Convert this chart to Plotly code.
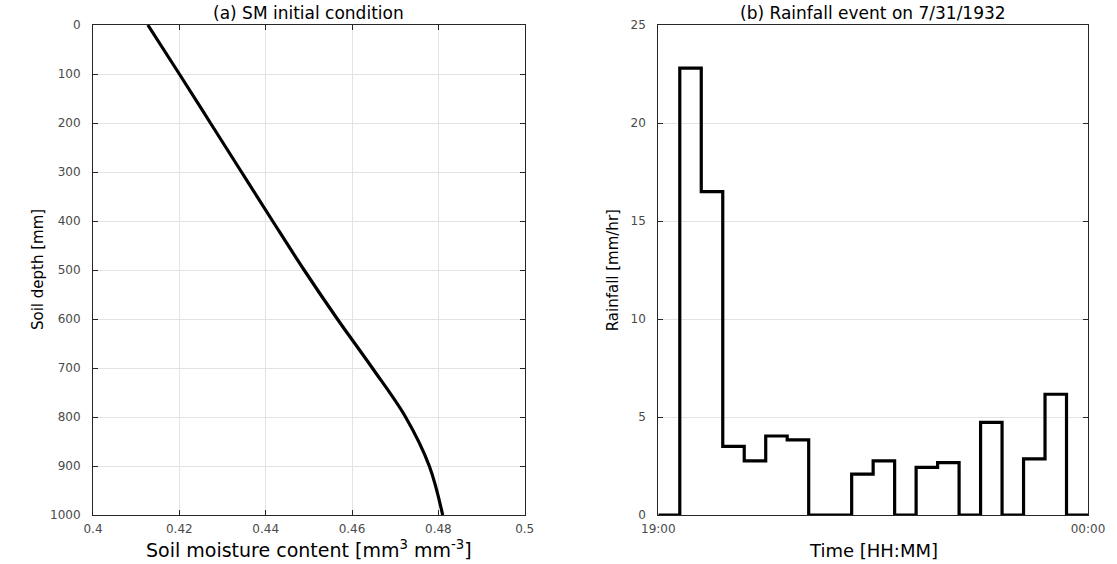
import plotly.graph_objects as go

# ---- Panel (a): soil moisture initial condition ----
soil_depth_mm = [0, 100, 200, 300, 400, 500, 600, 700, 800, 900, 1000]
soil_moisture = [0.4127, 0.4200, 0.4272, 0.4344, 0.4416, 0.4489, 0.4566, 0.4647, 0.4724, 0.4779, 0.4810]

# ---- Panel (b): rainfall event (15-min intervals) ----
interval_start = ["19:00", "19:15", "19:30", "19:45", "20:00", "20:15", "20:30", "20:45",
                  "21:00", "21:15", "21:30", "21:45", "22:00", "22:15", "22:30", "22:45",
                  "23:00", "23:15", "23:30", "23:45"]
rainfall_mmhr = [0, 22.8, 16.5, 3.5, 2.76, 4.03, 3.83, 0, 0, 2.09, 2.76, 0,
                 2.43, 2.67, 0, 4.73, 0, 2.86, 6.16, 0]
end_time = "00:00"
time_tick_labels = ["19:00", "00:00"]


def to_hours(s):
    h, m = s.split(":")
    h = int(h)
    if h < 12:
        h += 24
    return h + int(m) / 60.0


t_hours = [to_hours(s) for s in interval_start] + [to_hours(end_time)]
r_vals = rainfall_mmhr + [rainfall_mmhr[-1]]

FONT = "DejaVu Sans, Liberation Sans, Arial, sans-serif"
AXC = "#262626"
GRID = "#e3e3e3"
TICKC = "#4a4a4a"

fig = go.Figure()
fig.add_trace(go.Scatter(x=soil_moisture, y=soil_depth_mm, mode="lines",
                         line=dict(color="black", width=3.2, shape="spline", smoothing=1.0),
                         xaxis="x", yaxis="y", showlegend=False, hoverinfo="skip"))
fig.add_trace(go.Scatter(x=t_hours, y=r_vals, mode="lines",
                         line=dict(color="black", width=3.2, shape="hv"),
                         xaxis="x2", yaxis="y2", showlegend=False, hoverinfo="skip"))

common = dict(showline=True, linecolor=AXC, linewidth=1, mirror="ticks",
              ticks="inside", ticklen=5, tickcolor=AXC, zeroline=False,
              tickfont=dict(family=FONT, size=12, color=TICKC))

W, H = 1117, 564
L, R, T, B = 93, 1091, 25, 515
dL = (526 - L) / (R - L)
dR0 = (660 - L) / (R - L)

fig.update_layout(
    width=W, height=H,
    margin=dict(l=L, r=W - R, t=T, b=H - B, pad=0),
    paper_bgcolor="white", plot_bgcolor="white",
    font=dict(family=FONT, color="black"),
    hovermode=False,
    xaxis=dict(domain=[0, dL], range=[0.4, 0.5], tickvals=[0.4, 0.42, 0.44, 0.46, 0.48, 0.5],
               ticktext=["0.4", "0.42", "0.44", "0.46", "0.48", "0.5"],
               showgrid=True, gridcolor=GRID, gridwidth=1, anchor="y",
               ticklabelstandoff=3, **common),
    yaxis=dict(domain=[0, 1], range=[1000, 0], tickvals=list(range(0, 1001, 100)),
               showgrid=True, gridcolor=GRID, gridwidth=1, anchor="x",
               ticklabelstandoff=9, **common),
    xaxis2=dict(domain=[dR0, 1], range=[19, 24], tickvals=[19, 24], ticktext=time_tick_labels,
                showgrid=False, anchor="y2", ticklabelstandoff=3, **common),
    yaxis2=dict(domain=[0, 1], range=[0, 25], tickvals=[0, 5, 10, 15, 20, 25],
                showgrid=True, gridcolor=GRID, gridwidth=1, anchor="x2",
                ticklabelstandoff=9, **common),
)

ann = []
# titles
ann.append(dict(text="(a) SM initial condition", x=dL / 2, y=1, xref="paper", yref="paper",
                xanchor="center", yanchor="bottom", yshift=0, showarrow=False,
                font=dict(family=FONT, size=17, color="black")))
ann.append(dict(text="(b) Rainfall event on 7/31/1932", x=(dR0 + 1) / 2, y=1, xref="paper", yref="paper",
                xanchor="center", yanchor="bottom", yshift=0, showarrow=False,
                font=dict(family=FONT, size=17, color="black")))
# x labels
ann.append(dict(text="Soil moisture content [mm<sup>3</sup> mm<sup>-3</sup>]", x=dL / 2, y=0,
                xref="paper", yref="paper", xanchor="center", yanchor="middle", yshift=-34,
                showarrow=False, font=dict(family=FONT, size=19, color="black")))
ann.append(dict(text="Time [HH:MM]", x=(dR0 + 1) / 2, y=0,
                xref="paper", yref="paper", xanchor="center", yanchor="middle", yshift=-35,
                showarrow=False, font=dict(family=FONT, size=18, color="black")))
# y labels
ann.append(dict(text="Soil depth [mm]", x=0, y=0.5, xref="paper", yref="paper",
                xanchor="right", yanchor="middle", xshift=-44, textangle=-90,
                showarrow=False, font=dict(family=FONT, size=15, color="black")))
ann.append(dict(text="Rainfall [mm/hr]", x=dR0, y=0.5, xref="paper", yref="paper",
                xanchor="right", yanchor="middle", xshift=-34, textangle=-90,
                showarrow=False, font=dict(family=FONT, size=15, color="black")))
fig.update_layout(annotations=ann)

fig.write_html("out.html", config={"displayModeBar": False, "staticPlot": True},
               post_script="document.body.style.margin='0';document.body.style.padding='0';")
